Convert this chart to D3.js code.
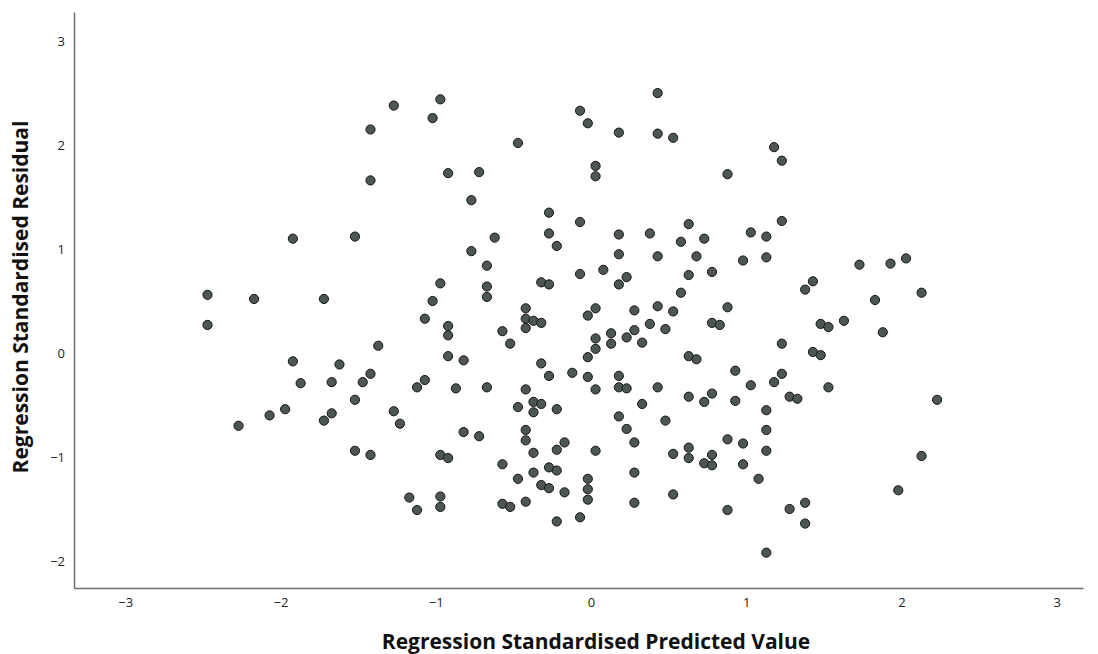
<!DOCTYPE html>
<html>
<head>
<meta charset="utf-8">
<script src="https://cdn.jsdelivr.net/npm/d3@7"></script>
<style>
  body { margin: 0; background: #fff; }
  text { font-family: "Open Sans", "DejaVu Sans", sans-serif; }
</style>
</head>
<body>
<script>
// standardised predicted values (x) and residuals (y)
const predicted = [
  -1.27, -1.42, -1.42, -1.92, -1.52, -2.47, -2.17, -1.72, -2.47, -0.97,
  -1.02, -0.47, -0.92, -0.72, -0.07, -0.02, 0.18, 0.43, 0.43, 0.53,
  0.03, 0.03, 1.18, 1.23, 0.88, -0.77, -0.27, -0.07, 0.18, 0.38,
  0.63, 0.58, 0.73, 1.03, 1.13, 1.23, -0.62, -0.27, -0.22, -0.77,
  -0.67, 0.18, 0.43, 0.68, 0.98, 1.13, -0.97, -1.02, -1.07, -0.92,
  -0.92, -0.67, -0.67, -0.32, -0.27, -0.07, 0.08, 0.23, 0.18, 0.63,
  0.78, 0.58, -0.42, -0.42, -0.37, -0.32, -0.42, -0.57, -0.52, 0.03,
  -0.02, 0.28, 0.43, 0.53, 0.38, 0.28, 0.48, 0.13, 0.13, 0.23,
  0.33, 0.03, 0.03, -0.02, 0.88, 0.78, 0.83, 1.73, 1.93, 2.03,
  1.43, 1.38, 1.83, 2.13, 1.48, 1.53, 1.63, 1.88, -1.37, -1.92,
  -1.62, -1.42, -1.87, -1.67, -1.47, -1.52, -2.07, -1.97, -2.27, -1.72,
  -1.67, -1.27, -1.23, -1.52, -1.42, -0.92, -0.82, -0.32, -0.27, -0.12,
  -0.02, 0.03, 0.18, 0.18, 0.23, 0.43, 0.63, 0.68, 0.93, 1.03,
  1.18, 1.23, 1.23, 1.43, 1.48, 1.53, 1.28, 1.33, 2.23, -1.07,
  -1.12, -0.87, -0.67, -0.42, -0.37, -0.32, -0.37, -0.47, -0.22, 0.33,
  0.18, 0.23, 0.28, 0.48, 0.63, 0.73, 0.78, 0.93, 1.13, 1.13,
  1.13, -0.82, -0.72, -0.42, -0.42, -0.37, -0.22, -0.17, 0.03, -0.97,
  -0.92, -0.57, -0.47, -0.37, -0.27, -0.22, -0.32, -0.27, -0.17, -0.02,
  -0.02, -0.02, 0.28, 0.28, 0.53, 0.53, 0.63, 0.63, 0.73, 0.78,
  0.78, 0.88, 0.98, 0.98, 1.08, 0.88, 1.13, -1.17, -1.12, -0.97,
  -0.97, -0.57, -0.52, -0.42, -0.22, -0.07, 2.13, 1.98, 1.28, 1.38,
  1.38
];
const residual = [
  2.38, 2.15, 1.66, 1.10, 1.12, 0.56, 0.52, 0.52, 0.27, 2.44,
  2.26, 2.02, 1.73, 1.74, 2.33, 2.21, 2.12, 2.50, 2.11, 2.07,
  1.80, 1.70, 1.98, 1.85, 1.72, 1.47, 1.35, 1.26, 1.14, 1.15,
  1.24, 1.07, 1.10, 1.16, 1.12, 1.27, 1.11, 1.15, 1.03, 0.98,
  0.84, 0.95, 0.93, 0.93, 0.89, 0.92, 0.67, 0.50, 0.33, 0.26,
  0.17, 0.64, 0.54, 0.68, 0.66, 0.76, 0.80, 0.73, 0.66, 0.75,
  0.78, 0.58, 0.43, 0.33, 0.31, 0.29, 0.24, 0.21, 0.09, 0.43,
  0.36, 0.41, 0.45, 0.40, 0.28, 0.22, 0.23, 0.19, 0.09, 0.15,
  0.10, 0.14, 0.04, -0.04, 0.44, 0.29, 0.27, 0.85, 0.86, 0.91,
  0.69, 0.61, 0.51, 0.58, 0.28, 0.25, 0.31, 0.20, 0.07, -0.08,
  -0.11, -0.20, -0.29, -0.28, -0.28, -0.45, -0.60, -0.54, -0.70, -0.65,
  -0.58, -0.56, -0.68, -0.94, -0.98, -0.03, -0.07, -0.10, -0.22, -0.19,
  -0.23, -0.35, -0.22, -0.33, -0.34, -0.33, -0.03, -0.06, -0.17, -0.31,
  -0.28, -0.20, 0.09, 0.01, -0.02, -0.33, -0.42, -0.44, -0.45, -0.26,
  -0.33, -0.34, -0.33, -0.35, -0.47, -0.49, -0.57, -0.52, -0.54, -0.49,
  -0.61, -0.73, -0.86, -0.65, -0.42, -0.47, -0.39, -0.46, -0.55, -0.74,
  -0.94, -0.76, -0.80, -0.74, -0.84, -0.96, -0.93, -0.86, -0.94, -0.98,
  -1.01, -1.07, -1.21, -1.15, -1.10, -1.13, -1.27, -1.30, -1.34, -1.21,
  -1.31, -1.41, -1.15, -1.44, -0.97, -1.36, -0.91, -1.01, -1.06, -0.98,
  -1.08, -0.83, -0.87, -1.07, -1.21, -1.51, -1.92, -1.39, -1.51, -1.38,
  -1.48, -1.45, -1.48, -1.43, -1.62, -1.58, -0.99, -1.32, -1.50, -1.44,
  -1.64
];
const xTicks = [-3, -2, -1, 0, 1, 2, 3];
const yTicks = [-2, -1, 0, 1, 2, 3];

const points = predicted.map((p, i) => ({ x: p, y: residual[i] }));

const width = 1098, height = 654;
const plotLeft = 74, plotRight = 1083, plotTop = 12, plotBottom = 588;

const svg = d3.select("body").append("svg")
  .attr("width", width)
  .attr("height", height);

const x = d3.scaleLinear().domain([-3.33, 3.17]).range([plotLeft, plotRight]);
const y = d3.scaleLinear().domain([-2.26, 3.28]).range([plotBottom, plotTop]);

const xAxis = svg.append("g")
  .attr("transform", `translate(0,${plotBottom})`)
  .call(d3.axisBottom(x).tickValues(xTicks).tickFormat(d3.format("d"))
    .tickSize(0).tickPadding(10));

const yAxis = svg.append("g")
  .attr("transform", `translate(${plotLeft},0)`)
  .call(d3.axisLeft(y).tickValues(yTicks).tickFormat(d3.format("d"))
    .tickSize(0).tickPadding(9));

[xAxis, yAxis].forEach(function (a) {
  a.select(".domain").attr("stroke", "#6e6e6e").attr("stroke-width", 1.5);
  a.selectAll("text")
    .attr("font-size", 13)
    .attr("fill", "#222")
    .style("font-family", "'Open Sans', 'DejaVu Sans', sans-serif");
});

svg.append("g").selectAll("circle")
  .data(points)
  .enter().append("circle")
  .attr("cx", function (d) { return x(d.x); })
  .attr("cy", function (d) { return y(d.y); })
  .attr("r", 4.6)
  .attr("fill", "#4d5752")
  .attr("stroke", "#151515")
  .attr("stroke-width", 1);

svg.append("text")
  .text("Regression Standardised Predicted Value")
  .attr("x", 596)
  .attr("y", 649)
  .attr("text-anchor", "middle")
  .attr("font-size", 21)
  .attr("font-weight", "bold")
  .attr("fill", "#111");

svg.append("text")
  .text("Regression Standardised Residual")
  .attr("transform", "translate(28,297) rotate(-90)")
  .attr("text-anchor", "middle")
  .attr("font-size", 21)
  .attr("font-weight", "bold")
  .attr("fill", "#111");
</script>
</body>
</html>
